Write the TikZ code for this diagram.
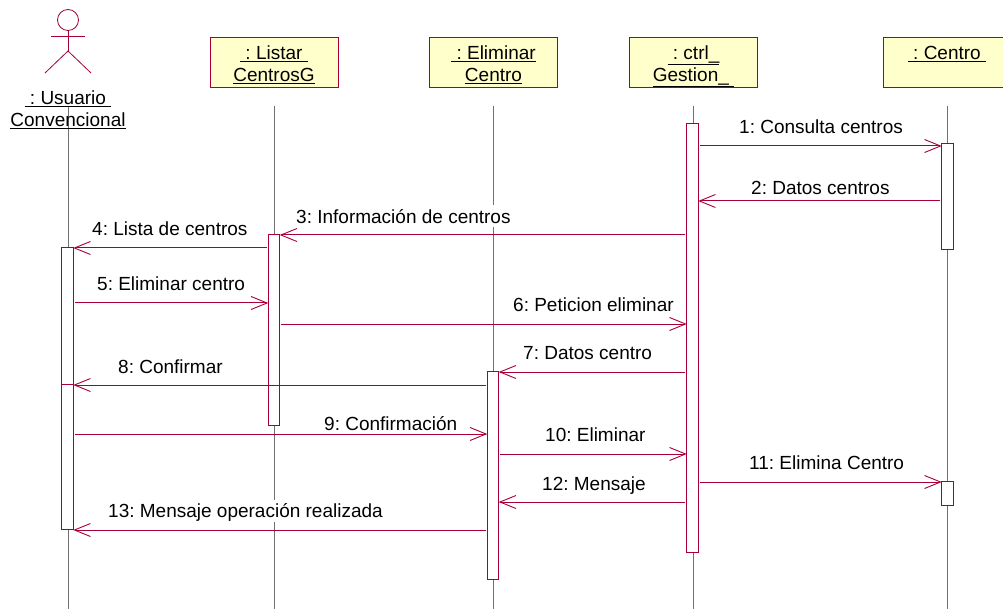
\documentclass[tikz,border=0pt]{standalone}
\usepackage{fontspec}
\setmainfont{Liberation Sans}
\usetikzlibrary{arrows.meta}
\definecolor{umlred}{HTML}{A80036}
\definecolor{umlfill}{HTML}{FFFFCC}
\definecolor{lifegray}{HTML}{707070}
\frenchspacing
\begin{document}
\begin{tikzpicture}[x=1pt,y=-1pt]
    \useasboundingbox (0,0) rectangle (1003,609);
    \def\highstrut{\rule{0pt}{22pt}}
    \def\lowstrut{\rule[-6pt]{0pt}{6pt}}

    \tikzstyle{object}=[draw=umlred,fill=umlfill,line width=1pt,minimum width=128pt,minimum height=50pt,inner sep=0pt,outer sep=0pt,align=center,font=\fontsize{19}{22}\selectfont]
    \tikzstyle{actorname}=[inner sep=0pt,align=center,font=\fontsize{19}{22}\selectfont]
    \tikzstyle{activ}=[draw=umlred,fill=white,line width=1pt,minimum width=11.5pt,inner sep=0pt,outer sep=0pt]
    \tikzstyle{life}=[draw=lifegray,line width=0.9pt]
    \tikzstyle{actor}=[draw=umlred,line width=0.8pt]
    \tikzstyle{fwd}=[draw=umlred,line width=1pt,shorten <=1.5pt,-{Straight Barb[length=16pt,width=13pt,line width=0.9pt]}]
    \tikzstyle{lbl}=[anchor=west,fill=white,inner xsep=0pt,inner ysep=0pt,yshift=0.5pt,text height=18pt,text depth=4pt,font=\fontsize{19}{22}\selectfont]

    % objects
    \node[object] (listar) at (274,62.5) {\highstrut\underline{\ : Listar\ }\\\underline{CentrosG}\lowstrut};
    \node[object] (eliminar) at (493.5,62.5) {\highstrut\underline{\ : Eliminar}\\\underline{Centro}\lowstrut};
    \node[object] (ctrl) at (693.5,62.5) {\highstrut\underline{\ : ctrl\_}\\\underline{Gestion\_\ }\lowstrut};
    \node[object] (centro) at (947,62.5) {\highstrut\underline{\ : Centro\ }\\\ \lowstrut};

    % actor
    \node[draw=umlred,line width=0.8pt,circle,minimum size=21pt,inner sep=0pt,outer sep=0pt] (head) at (68,20) {};
    \coordinate (hip) at (68,51);
    \coordinate (armL) at (51,36);
    \coordinate (armR) at (85,36);
    \coordinate (legL) at (45,73);
    \coordinate (legR) at (91,73);
    \draw[actor] (head.south) -- (hip);
    \draw[actor] (armL) -- (armR);
    \draw[actor] (legL) -- (hip) -- (legR);

    % lifelines
    \draw[life] (68,106) -- (68,609);
    \draw[life] (listar.south |- 0,106) -- (listar.south |- 0,609);
    \draw[life] (eliminar.south |- 0,106) -- (eliminar.south |- 0,609);
    \draw[life] (ctrl.south |- 0,106) -- (ctrl.south |- 0,609);
    \draw[life] (centro.south |- 0,106) -- (centro.south |- 0,609);

    \node[actorname] (usuario) at (68,109.5) {\underline{\ : Usuario\ }\\\underline{Convencional}};

    % labels
    \node[lbl] (l1) at (739,127) {1: Consulta centros};
    \node[lbl] (l2) at (751,188) {2: Datos centros};
    \node[lbl] (l3) at (296,217) {3: Información de centros};
    \node[lbl] (l4) at (92,229) {4: Lista de centros};
    \node[lbl] (l5) at (97,284) {5: Eliminar centro};
    \node[lbl] (l6) at (513,305) {6: Peticion eliminar};
    \node[lbl] (l7) at (523,353) {7: Datos centro};
    \node[lbl] (l8) at (118,367) {8: Confirmar};
    \node[lbl] (l9) at (324,424) {9: Confirmación};
    \node[lbl] (l10) at (545,435) {10: Eliminar};
    \node[lbl] (l11) at (749,463) {11: Elimina Centro};
    \node[lbl] (l12) at (542,484) {12: Mensaje};
    \node[lbl] (l13) at (108,511) {13: Mensaje operación realizada};

    % activations
    \node[activ,minimum height=428pt] (ctrlA) at (692.5,338) {};
    \node[activ,minimum height=106pt] (centroA) at (947.5,197) {};
    \node[activ,minimum height=24pt] (centroB) at (947.5,493) {};
    \node[activ,minimum height=190pt] (listarA) at (274,330) {};
    \node[activ,minimum height=208pt] (eliminarA) at (493,475) {};
    \node[activ,minimum height=281pt] (usuarioA) at (67.5,388.5) {};
    \node[minimum width=11.5pt,minimum height=15pt,inner sep=0pt,outer sep=0pt] (usuarioB) at (67.5,391.5) {};
    \draw[draw=umlred,line width=1pt] (usuarioB.south west) -- (usuarioB.north west) -- (usuarioB.north east) -- (usuarioB.south east);

    % messages
    \draw[fwd] (ctrlA.east |- 0,146) -- (centroA.west |- 0,146);
    \draw[fwd] (centroA.west |- 0,201) -- (ctrlA.east |- 0,201);
    \draw[fwd] (ctrlA.west |- 0,235) -- (listarA.east |- 0,235);
    \draw[fwd] (listarA.west |- 0,248) -- (usuarioA.east |- 0,248);
    \draw[fwd] (usuarioA.east |- 0,303) -- (listarA.west |- 0,303);
    \draw[fwd] (listarA.east |- 0,324) -- (ctrlA.west |- 0,324);
    \draw[fwd] (ctrlA.west |- 0,372) -- (eliminarA.east |- 0,372);
    \draw[fwd] (eliminarA.west |- 0,385) -- (usuarioA.east |- 0,385);
    \draw[fwd] (usuarioA.east |- 0,434) -- (eliminarA.west |- 0,434);
    \draw[fwd] (eliminarA.east |- 0,454) -- (ctrlA.west |- 0,454);
    \draw[fwd] (ctrlA.east |- 0,482) -- (centroB.west |- 0,482);
    \draw[fwd] (ctrlA.west |- 0,502) -- (eliminarA.east |- 0,502);
    \draw[fwd] (eliminarA.west |- 0,530) -- (usuarioA.east |- 0,530);
\end{tikzpicture}
\end{document}
